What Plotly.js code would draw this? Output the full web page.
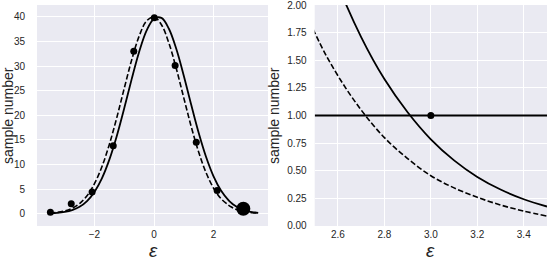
<!DOCTYPE html>
<html>
<head>
<meta charset="utf-8">
<script src="https://cdn.plot.ly/plotly-3.0.1.min.js"></script>
<style>
html,body{margin:0;padding:0;background:#fff;}
#chart{width:548px;height:262px;}
</style>
</head>
<body>
<div id="chart"></div>
<script>
const epsGrid = [-3.5, -3.25, -3.0, -2.75, -2.5, -2.25, -2.0, -1.75, -1.5, -1.25, -1.0, -0.75, -0.5, -0.25,
  0, 0.25, 0.5, 0.75, 1.0, 1.25, 1.5, 1.75, 2.0, 2.25, 2.5, 2.6, 2.7, 2.8, 2.9, 3.0, 3.1, 3.2, 3.3, 3.4, 3.5];
// solid curve
const fitSolid = [0.07, 0.16, 0.35, 0.72, 1.40, 2.57, 4.43, 7.18, 10.98, 15.8, 21.42, 27.34, 32.85, 37.18,
  39.62, 39.77, 37.58, 33.45, 28.04, 22.13, 16.44, 11.51, 7.59, 4.71, 2.75, 2.18, 1.71, 1.33, 1.03, 0.785,
  0.594, 0.444, 0.33, 0.242, 0.176];
// dashed curve
const fitDashed = [0.11, 0.26, 0.55, 1.09, 2.06, 3.65, 6.09, 9.54, 14.07, 19.52, 25.46, 31.24, 36.06, 39.15,
  39.97, 38.38, 34.67, 29.46, 23.54, 17.70, 12.51, 8.32, 5.20, 3.06, 1.75, 1.36, 1.05, 0.80, 0.61, 0.455,
  0.345, 0.26, 0.19, 0.135, 0.09];
// histogram points
const binX = [-3.48, -2.78, -2.08, -1.37, -0.68, 0.01, 0.71, 1.42, 2.12];
const binCount = [0.3, 2.0, 4.4, 13.8, 33.0, 39.8, 30.1, 14.5, 4.7];
// observed point
const obsX = [3.0];
const obsY = [1.0];
// reference level in the right panel
const refLineX = [2.5, 3.5];
const refLineY = [1, 1];

const leftTicksX = [-2, 0, 2];
const leftTickTextX = ['\u22122', '0', '2'];
const leftTicksY = [0, 5, 10, 15, 20, 25, 30, 35, 40];
const rightTicksX = [2.6, 2.8, 3.0, 3.2, 3.4];
const rightTickTextX = ['2.6', '2.8', '3.0', '3.2', '3.4'];
const rightTicksY = [0, 0.25, 0.5, 0.75, 1.0, 1.25, 1.5, 1.75, 2.0];
const rightTickTextY = ['0.00', '0.25', '0.50', '0.75', '1.00', '1.25', '1.50', '1.75', '2.00'];
const xTitle = '<i>\u03b5</i>';
const yTitle = 'sample number';

const FONT = 'Liberation Sans, Arial, sans-serif';
const TXT = '#262626';
const dashStyle = '5.5px,2.4px';

const traces = [
  {x: epsGrid, y: fitSolid, xaxis: 'x', yaxis: 'y', mode: 'lines', line: {color: '#000', width: 1.8, shape: 'spline'}},
  {x: epsGrid, y: fitDashed, xaxis: 'x', yaxis: 'y', mode: 'lines', line: {color: '#000', width: 1.6, dash: dashStyle, shape: 'spline'}},
  {x: binX, y: binCount, xaxis: 'x', yaxis: 'y', mode: 'markers', marker: {color: '#000', size: 7}},
  {x: obsX, y: obsY, xaxis: 'x', yaxis: 'y', mode: 'markers', marker: {color: '#000', size: 14}},
  {x: epsGrid, y: fitSolid, xaxis: 'x2', yaxis: 'y2', mode: 'lines', line: {color: '#000', width: 1.8, shape: 'spline'}},
  {x: epsGrid, y: fitDashed, xaxis: 'x2', yaxis: 'y2', mode: 'lines', line: {color: '#000', width: 1.6, dash: dashStyle, shape: 'spline'}},
  {x: refLineX, y: refLineY, xaxis: 'x2', yaxis: 'y2', mode: 'lines', line: {color: '#000', width: 1.8}},
  {x: obsX, y: obsY, xaxis: 'x2', yaxis: 'y2', mode: 'markers', marker: {color: '#000', size: 7}}
];

const axisCommon = {
  showgrid: true, gridcolor: '#ffffff', gridwidth: 1, zeroline: false, showline: false,
  ticks: '', tickfont: {family: FONT, size: 10, color: TXT}, automargin: false,
  ticklabeloverflow: 'allow'
};

const xTitleFont = {family: FONT, size: 19, color: TXT};
const yTitleFont = {family: FONT, size: 14, color: TXT};

const layout = {
  width: 548, height: 262,
  margin: {l: 37, r: 1, t: 5, b: 36, pad: 0},
  paper_bgcolor: '#ffffff', plot_bgcolor: '#EAEAF2',
  showlegend: false,
  font: {family: FONT, color: TXT},
  xaxis: Object.assign({}, axisCommon, {
    domain: [0, 0.453], range: [-3.93, 3.83], tickvals: leftTicksX, ticktext: leftTickTextX,
    ticklabelstandoff: 1
  }),
  yaxis: Object.assign({}, axisCommon, {
    domain: [0, 1], range: [-2.5, 42.4], tickvals: leftTicksY,
    ticklabelstandoff: 11
  }),
  xaxis2: Object.assign({}, axisCommon, {
    domain: [0.5445, 1], range: [2.5, 3.5], tickvals: rightTicksX, ticktext: rightTickTextX,
    anchor: 'y2', ticklabelstandoff: 1
  }),
  yaxis2: Object.assign({}, axisCommon, {
    domain: [0, 1], range: [-0.0001, 2.0001], tickvals: rightTicksY, ticktext: rightTickTextY,
    anchor: 'x2', ticklabelstandoff: 7
  }),
  annotations: [
    {text: xTitle, xref: 'paper', yref: 'paper', x: 0.228, y: -0.1652, xanchor: 'center', yanchor: 'bottom', showarrow: false, font: xTitleFont},
    {text: xTitle, xref: 'paper', yref: 'paper', x: 0.772, y: -0.1652, xanchor: 'center', yanchor: 'bottom', showarrow: false, font: xTitleFont},
    {text: yTitle, xref: 'paper', yref: 'paper', x: -0.0578, y: 0.5, xanchor: 'center', yanchor: 'middle', textangle: -90, showarrow: false, font: yTitleFont},
    {text: yTitle, xref: 'paper', yref: 'paper', x: 0.4637, y: 0.5, xanchor: 'center', yanchor: 'middle', textangle: -90, showarrow: false, font: yTitleFont}
  ]
};

Plotly.newPlot('chart', traces, layout, {staticPlot: true, displayModeBar: false});
</script>
</body>
</html>
